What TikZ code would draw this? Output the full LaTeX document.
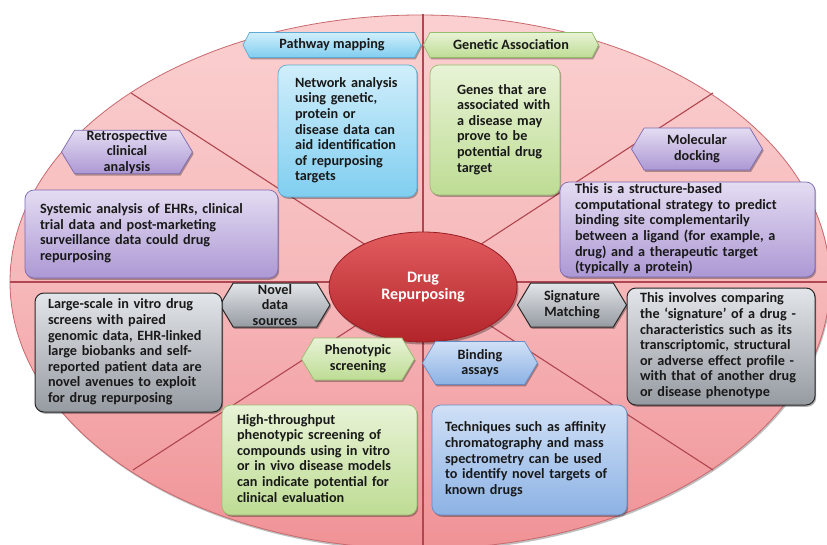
\documentclass[tikz,border=0pt]{standalone}
\usepackage{fontspec}
\setmainfont{Carlito}
\usetikzlibrary{shapes.symbols,shapes.geometric,shadows}
\definecolor{txt}{RGB}{25,25,25}
\definecolor{pinktop}{RGB}{251,208,208}
\definecolor{pinkmid}{RGB}{246,184,186}
\definecolor{pinkbot}{RGB}{240,146,150}
\definecolor{pinkline}{RGB}{200,105,110}
\definecolor{divline}{RGB}{175,70,80}
\definecolor{redtop}{RGB}{226,92,94}
\definecolor{redbot}{RGB}{178,36,42}
\definecolor{redline}{RGB}{150,30,36}
\definecolor{cyantop}{RGB}{208,238,251}
\definecolor{cyanbot}{RGB}{128,206,240}
\definecolor{cyanline}{RGB}{95,170,210}
\definecolor{greentop}{RGB}{232,243,214}
\definecolor{greenbot}{RGB}{190,220,148}
\definecolor{greenline}{RGB}{150,188,110}
\definecolor{purptop}{RGB}{228,220,242}
\definecolor{purpbot}{RGB}{172,152,212}
\definecolor{purpline}{RGB}{125,105,178}
\definecolor{graytop}{RGB}{226,229,233}
\definecolor{graybot}{RGB}{150,155,162}
\definecolor{grayline}{RGB}{40,40,40}
\definecolor{bluetop}{RGB}{208,224,246}
\definecolor{bluebot}{RGB}{140,178,228}
\definecolor{blueline}{RGB}{100,140,200}
\newcommand{\tl}[1]{\begin{tabular}{@{}l@{}}#1\end{tabular}}
\tikzset{
  txtfont/.style={font=\fontsize{14.2}{15.6}\selectfont\bfseries},
  softshadow/.style={drop shadow={shadow xshift=1.2pt, shadow yshift=-1.8pt, opacity=0.3, fill=black}},
  card/.style={rounded corners=9pt, line width=0.7pt, align=left, inner sep=0pt,
    text=txt, txtfont, softshadow},
  hexa/.style={signal, signal to=west and east, signal pointer angle=#1, line width=0.7pt,
    align=center, inner sep=0pt, text=txt, txtfont, softshadow},
  hexa/.default=118,
  cyanfill/.style={draw=cyanline, top color=cyantop, bottom color=cyanbot},
  greenfill/.style={draw=greenline, top color=greentop, bottom color=greenbot},
  purpfill/.style={draw=purpline, top color=purptop, bottom color=purpbot},
  grayfill/.style={draw=grayline, line width=1pt, top color=graytop, bottom color=graybot},
  bluefill/.style={draw=blueline, top color=bluetop, bottom color=bluebot},
  divider/.style={draw=divline, line width=1.1pt},
}
\begin{document}
\begin{tikzpicture}[x=1pt,y=-1pt]
\useasboundingbox (0,0) rectangle (827,544);
\clip (0,0) rectangle (827,544);
\fill[white] (0,0) rectangle (827,544);

% big ellipse
\node[ellipse, minimum width=820pt, minimum height=534pt, inner sep=0pt,
      draw=pinkline, line width=0.8pt, top color=pinktop, bottom color=pinkbot, middle color=pinkmid,
      drop shadow={shadow xshift=1pt, shadow yshift=-2pt, opacity=0.25, fill=black}]
      (big) at (420,282) {};

% dividers
\coordinate (c) at (423,282);
\coordinate (dT) at (423,14);
\coordinate (dB) at (423,550);
\coordinate (dL) at (10,282);
\coordinate (dR) at (830,282);
\coordinate (dTL) at (131,93);
\coordinate (dTR) at (713,93);
\coordinate (dBL) at (133,470);
\coordinate (dBR) at (713,470);
\draw[divider] (dT) -- (dB);
\draw[divider] (dL) -- (dR);
\draw[divider] (c) -- (dTL);
\draw[divider] (c) -- (dTR);
\draw[divider] (c) -- (dBL);
\draw[divider] (c) -- (dBR);

% centre ellipse
\node[ellipse, minimum width=188pt, minimum height=110pt, inner sep=0pt,
      draw=redline, line width=0.8pt, top color=redtop, bottom color=redbot,
      text=white, align=center, font=\fontsize{16}{17.5}\selectfont\bfseries,
      drop shadow={shadow xshift=1.5pt, shadow yshift=-2.5pt, opacity=0.3, fill=black}]
      (drug) at (423,287) {Drug\\Repurposing};

% hexagon labels
\node[hexa=125, cyanfill, minimum width=178pt, minimum height=25pt] (pm) at (332,45) {Pathway mapping};
\node[hexa=125, greenfill, minimum width=175pt, minimum height=25pt] (ga) at (511,45) {Genetic Association};
\node[hexa, purpfill, minimum width=131pt, minimum height=42pt] (md) at (697,149) {Molecular\\docking};
\node[hexa, purpfill, minimum width=131pt, minimum height=43pt] (rca) at (127,152) {Retrospective\\clinical\\analysis};
\node[hexa, grayfill, minimum width=110pt, minimum height=44pt] (nds) at (275,305) {Novel\\data\\sources};
\node[hexa, greenfill, minimum width=113pt, minimum height=42pt] (ps) at (358,359) {Phenotypic\\screening};
\node[hexa, bluefill, minimum width=115pt, minimum height=43pt] (ba) at (480,363) {Binding\\assays};
\node[hexa, grayfill, minimum width=109pt, minimum height=44pt] (sm) at (572,305) {Signature\\Matching};

% description cards
\node[card, cyanfill, minimum width=139pt, minimum height=132pt, text width=105pt] (net) at (347.5,131)
 {\tl{Network analysis\\using genetic,\\protein or\\disease data can\\aid identification\\of repurposing\\targets}};
\node[card, greenfill, minimum width=130pt, minimum height=130pt, text width=76pt] (gen) at (495,130)
 {\tl{Genes that are\\associated with\\a disease may\\prove to be\\potential drug\\target}};
\node[card, purpfill, minimum width=255pt, minimum height=95pt, text width=225pt] (str) at (687.5,229.5)
 {\tl{This is a structure-based\\computational strategy to predict\\binding site complementarily\\between a ligand (for example, a\\drug) and a therapeutic target\\(typically a protein)}};
\node[card, purpfill, minimum width=253pt, minimum height=88pt, text width=223pt] (sys) at (151.5,234)
 {\tl{Systemic analysis of EHRs, clinical\\trial data and post-marketing\\surveillance data could drug\\repurposing}};
\node[card, grayfill, minimum width=187pt, minimum height=119pt, text width=161pt] (lsc) at (128.5,352.5)
 {\tl{Large-scale in vitro drug\\screens with paired\\genomic data, EHR-linked\\large biobanks and self-\\reported patient data are\\novel avenues to exploit\\for drug repurposing}};
\node[card, greenfill, minimum width=195pt, minimum height=110pt, text width=165pt] (hts) at (319.5,460)
 {\tl{High-throughput\\phenotypic screening of\\compounds using in vitro\\or in vivo disease models\\can indicate potential for\\clinical evaluation}};
\node[card, bluefill, minimum width=195pt, minimum height=110pt, text width=169pt] (tec) at (529.5,460)
 {\tl{Techniques such as affinity\\chromatography and mass\\spectrometry can be used\\to identify novel targets of\\known drugs}};
\node[card, grayfill, minimum width=188pt, minimum height=117pt, text width=162pt] (inv) at (721,346.5)
 {\tl{This involves comparing\\the ‘signature’ of a drug -\\characteristics such as its\\transcriptomic, structural\\or adverse effect profile -\\with that of another drug\\or disease phenotype}};
\end{tikzpicture}
\end{document}
